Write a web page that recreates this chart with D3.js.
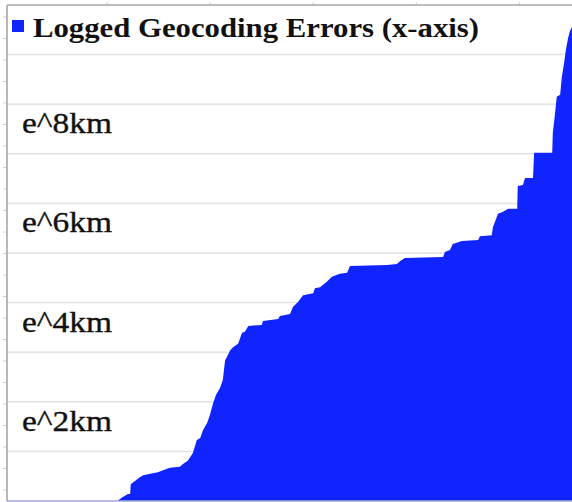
<!DOCTYPE html>
<html lang="en">
<head>
    <meta charset="UTF-8">
    <title>Logged Geocoding Errors</title>
    <script src="https://cdn.jsdelivr.net/npm/d3@7"></script>
    <style>
        html, body {
            margin: 0;
            padding: 0;
            background: white;
        }
        .label {
            font-family: "Liberation Serif", "Times New Roman", serif;
        }
    </style>
</head>
<body>
    <div id="vis"></div>
    <script>

        // rank of observation (percent of sorted list) and logged error value
        var ranks = [0, 19.5, 20.5, 21.4, 21.8, 21.9, 23.5, 24.1, 25.8, 26.7, 28.8, 30.6, 31.2, 32.0, 32.9,
            33.6, 34.2, 34.7, 35.4, 35.9, 36.5, 37.0, 37.7, 38.2, 38.6, 38.9, 39.5, 40.0, 40.9, 41.6,
            42.1, 42.7, 45.1, 45.3, 48.0, 48.3, 50.1, 50.6, 51.5, 52.4, 54.2, 54.5, 55.4, 56.6, 57.5,
            58.9, 60.2, 60.7, 67.3, 69.0, 69.6, 70.4, 77.2, 77.5, 78.4, 78.9, 80.5, 83.4, 83.7, 85.8,
            86.0, 86.7, 86.9, 87.8, 88.7, 90.3, 90.4, 91.3, 91.7, 93.1, 93.3, 96.5, 96.6, 97.0, 97.3,
            97.9, 98.2, 98.6, 98.9, 99.3, 99.6, 100];
        var logErrors = [0, 0, 0.08, 0.14, 0.14, 0.34, 0.48, 0.52, 0.56, 0.58, 0.67, 0.69, 0.75, 0.81, 0.97,
            1.23, 1.27, 1.43, 1.57, 1.73, 1.98, 2.14, 2.28, 2.44, 2.84, 2.90, 3.04, 3.10, 3.17, 3.39,
            3.41, 3.53, 3.55, 3.63, 3.67, 3.73, 3.77, 3.91, 4.01, 4.15, 4.19, 4.29, 4.31, 4.42, 4.52,
            4.58, 4.60, 4.74, 4.76, 4.78, 4.84, 4.90, 4.92, 5.02, 5.06, 5.18, 5.24, 5.26, 5.34, 5.36,
            5.52, 5.73, 5.79, 5.83, 5.89, 5.89, 6.35, 6.37, 6.51, 6.51, 7.02, 7.02, 7.42, 7.82, 8.15,
            8.19, 8.55, 8.83, 9.09, 9.33, 9.46, 9.56];

        var gridValues = [0, 1, 2, 3, 4, 5, 6, 7, 8, 9, 10];
        var labelValues = [2, 4, 6, 8];
        var legendText = "Logged Geocoding Errors (x-axis)";

        var width = 572;
        var height = 502;
        var margin = { top: 5, right: 0, bottom: 1, left: 7 };
        var blue = "#1024ff";

        var data = ranks.map(function(r, i){ return { rank: r, value: logErrors[i] }; });

        var svg = d3.select('#vis')
                    .append('svg')
                        .attr('width', width)
                        .attr('height', height);

        var x_scale = d3.scaleLinear()
                    .domain([0, 100])
                    .range([margin.left, width - margin.right]);

        var y_scale = d3.scaleLinear()
                    .domain([0, 10])
                    .range([height - margin.bottom, margin.top]);

        // gridlines
        svg.selectAll('.grid')
            .data(gridValues.slice(1, -1))
            .enter()
            .append('line')
            .attr('class', 'grid')
            .attr('x1', margin.left)
            .attr('x2', width)
            .attr('y1', function(d){ return y_scale(d); })
            .attr('y2', function(d){ return y_scale(d); })
            .attr('stroke', '#e2e2e2')
            .attr('stroke-width', 1.5);

        // area
        var area = d3.area()
            .x(function(d){ return x_scale(d.rank); })
            .y0(y_scale(0))
            .y1(function(d){ return y_scale(d.value); });

        svg.append('path')
            .datum(data)
            .attr('d', area)
            .attr('fill', blue);

        // small minor ticks on the frame
        var leftTicks = d3.range(0, 23).map(function(k){ return 9.758 - k * 0.4335; });
        svg.selectAll('.ltick')
            .data(leftTicks)
            .enter()
            .append('line')
            .attr('x1', 3)
            .attr('x2', margin.left)
            .attr('y1', function(d){ return y_scale(d); })
            .attr('y2', function(d){ return y_scale(d); })
            .attr('stroke', '#cfcfcf')
            .attr('stroke-width', 1);

        var topTicks = d3.range(0, 5).map(function(k){ return 17.7 + k * 18.25; });
        svg.selectAll('.ttick')
            .data(topTicks)
            .enter()
            .append('line')
            .attr('x1', function(d){ return x_scale(d); })
            .attr('x2', function(d){ return x_scale(d); })
            .attr('y1', 2)
            .attr('y2', margin.top)
            .attr('stroke', '#d5d5d5')
            .attr('stroke-width', 1);

        // frame lines
        svg.append('line')
            .attr('x1', margin.left).attr('x2', width)
            .attr('y1', y_scale(10)).attr('y2', y_scale(10))
            .attr('stroke', '#a8a8a8').attr('stroke-width', 1.5);

        svg.append('line')
            .attr('x1', margin.left).attr('x2', width)
            .attr('y1', y_scale(0)).attr('y2', y_scale(0))
            .attr('stroke', '#a3a6dc').attr('stroke-width', 1.5);

        svg.append('line')
            .attr('x1', margin.left).attr('x2', margin.left)
            .attr('y1', y_scale(10)).attr('y2', y_scale(0))
            .attr('stroke', '#a0a0a0').attr('stroke-width', 1.5);

        // value labels
        svg.selectAll('.vlabel')
            .data(labelValues)
            .enter()
            .append('text')
            .attr('class', 'label')
            .attr('x', 22)
            .attr('y', function(d){ return y_scale(d) + 29; })
            .attr('font-size', '29px')
            .attr('fill', '#111')
            .attr('stroke', '#111')
            .attr('stroke-width', 0.35)
            .attr('textLength', 90)
            .attr('lengthAdjust', 'spacingAndGlyphs')
            .text(function(d){ return 'e^' + d + 'km'; });

        // legend
        svg.append('rect')
            .attr('x', 12)
            .attr('y', 20)
            .attr('width', 12)
            .attr('height', 12)
            .attr('fill', blue);

        svg.append('text')
            .attr('class', 'label')
            .attr('x', 33)
            .attr('y', 37)
            .attr('font-size', '28px')
            .attr('font-weight', 'bold')
            .attr('fill', '#111')
            .attr('textLength', 446)
            .attr('lengthAdjust', 'spacingAndGlyphs')
            .text(legendText);

    </script>
</body>
</html>
